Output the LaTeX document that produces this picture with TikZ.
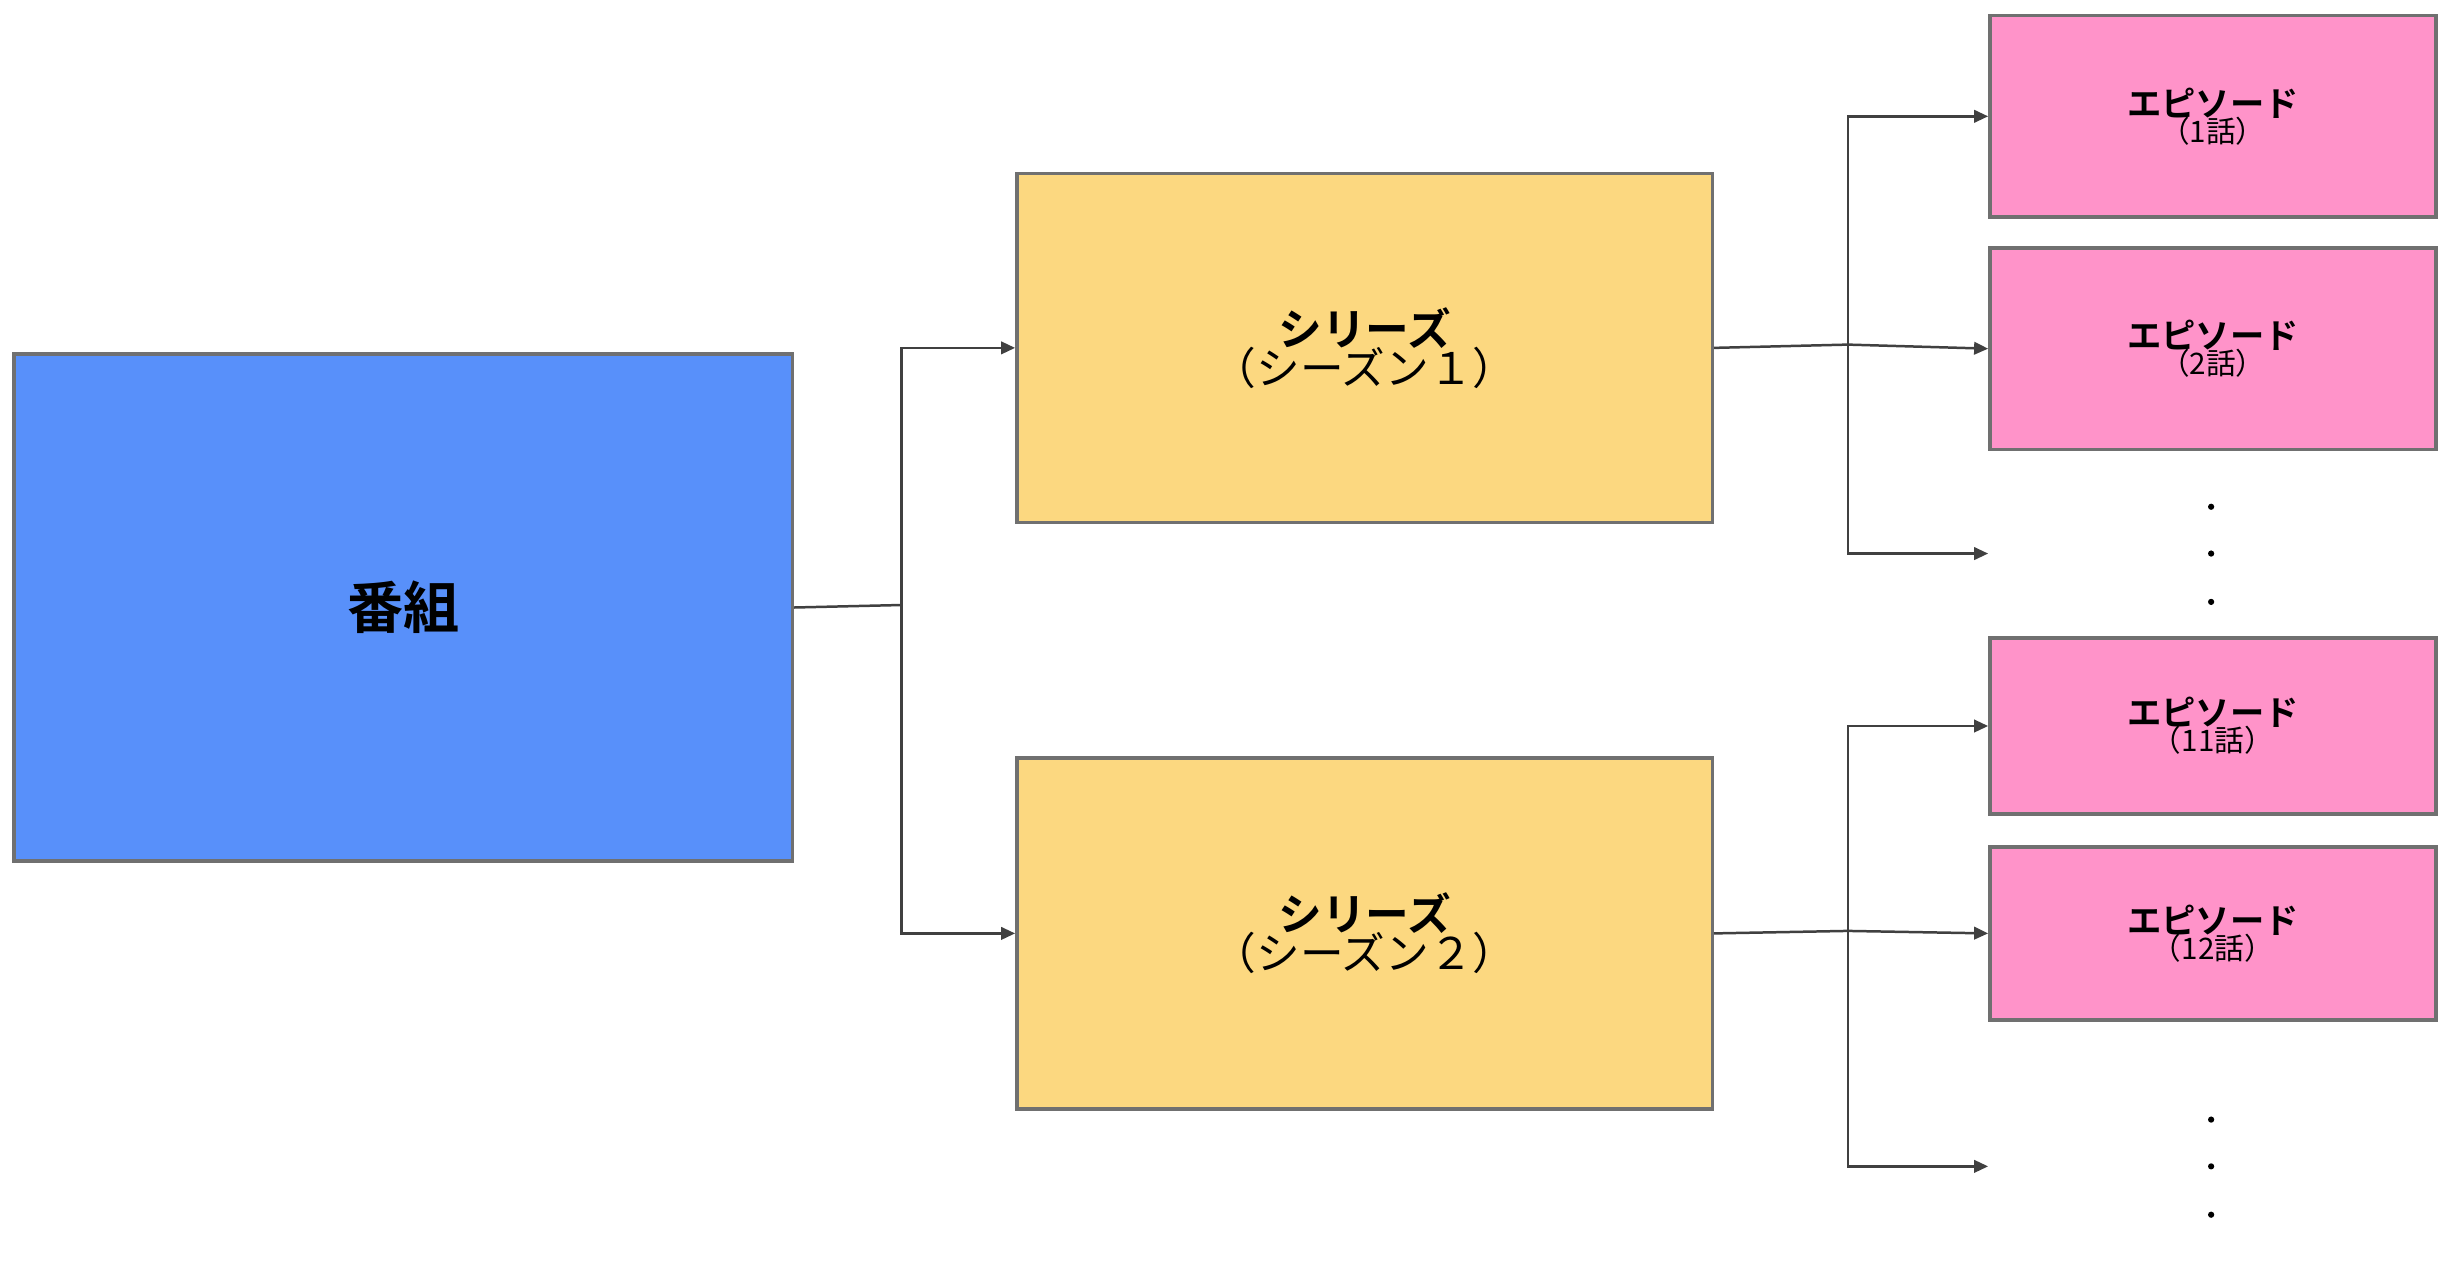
\documentclass[tikz,border=0pt]{standalone}
\usepackage{fontspec}
\newfontfamily\jp{Noto Sans CJK JP}
\newfontfamily\jpb{Noto Sans CJK JP Bold}
\usetikzlibrary{arrows.meta}
\definecolor{blu}{HTML}{5890FA}
\definecolor{yel}{HTML}{FCD880}
\definecolor{pnk}{HTML}{FF93C9}
\definecolor{edg}{HTML}{707070}
\definecolor{ln}{HTML}{404040}
\tikzset{
 bx/.style={draw=edg,line width=2.2pt,anchor=north west,inner sep=0pt,align=center},
 arr/.style={draw=ln,line width=1.6pt,-{Triangle[length=9pt,width=8pt]}},
 ln/.style={draw=ln,line width=1.6pt},
 dt/.style={font=\jpb\fontsize{22}{22}\selectfont}
}
\begin{document}
\begin{tikzpicture}[x=1pt,y=-1pt]
\useasboundingbox[fill=white] (0,0) rectangle (1568,810);
\node[bx,fill=blu,minimum width=499pt,minimum height=325pt] (prog) at (8,226) {\jpb\fontsize{36}{40}\selectfont 番組};
\node[bx,fill=yel,minimum width=446pt,minimum height=224pt] (s1) at (651,110) {\jpb\fontsize{28}{36}\selectfont シリーズ\\[-2pt]\jp\fontsize{28}{36}\selectfont （シーズン１）};
\node[bx,fill=yel,minimum width=446pt,minimum height=225pt] (s2) at (651,485) {\jpb\fontsize{28}{36}\selectfont シリーズ\\[-2pt]\jp\fontsize{28}{36}\selectfont （シーズン２）};
\node[bx,fill=pnk,minimum width=286pt,minimum height=129pt] (e1) at (1275,9) {\jpb\fontsize{22}{28}\selectfont エピソード\\[-2pt]\jp\fontsize{19}{26}\selectfont （1話）};
\node[bx,fill=pnk,minimum width=286pt,minimum height=129pt] (e2) at (1275,158) {\jpb\fontsize{22}{28}\selectfont エピソード\\[-2pt]\jp\fontsize{19}{26}\selectfont （2話）};
\node[bx,fill=pnk,minimum width=286pt,minimum height=113pt] (e11) at (1275,408) {\jpb\fontsize{22}{28}\selectfont エピソード\\[-2pt]\jp\fontsize{19}{26}\selectfont （11話）};
\node[bx,fill=pnk,minimum width=286pt,minimum height=111pt] (e12) at (1275,542) {\jpb\fontsize{22}{28}\selectfont エピソード\\[-2pt]\jp\fontsize{19}{26}\selectfont （12話）};
\coordinate (d1) at (1275,355);
\coordinate (d2) at (1275,748);
\foreach \y in {325,355,386,718,748,779} \fill[black] (1418,\y) circle (2pt);
\coordinate (j0) at (578,388);
\coordinate (j1) at (1185,221);
\coordinate (j2) at (1185,597);
\draw[ln] (prog.east) -- (j0);
\draw[arr] (j0) |- (s1.west);
\draw[arr] (j0) |- (s2.west);
\draw[ln] (s1.east) -- (j1);
\draw[arr] (j1) |- (e1.west);
\draw[arr] (j1) -- (e2.west);
\draw[arr] (j1) |- (d1);
\draw[ln] (s2.east) -- (j2);
\draw[arr] (j2) |- (e11.west);
\draw[arr] (j2) -- (e12.west);
\draw[arr] (j2) |- (d2);
\end{tikzpicture}
\end{document}
